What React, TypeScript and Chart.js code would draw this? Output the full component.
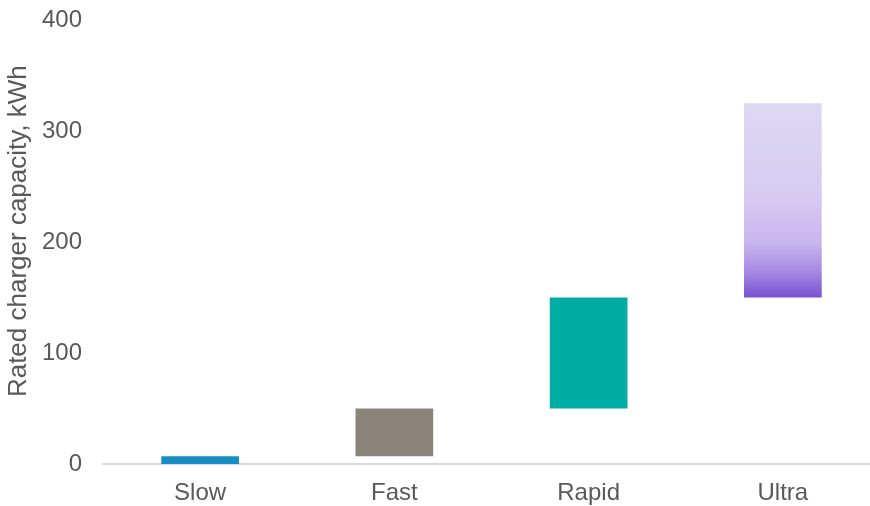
import React, { useEffect, useRef } from "react";
import { Chart, registerables } from "chart.js";

Chart.register(...registerables);

const categories = ["Slow", "Fast", "Rapid", "Ultra"];
const rangeLow = [0, 7, 50, 150];
const rangeHigh = [7, 50, 150, 325];
const barColors = ["#168ec4", "#8a847a", "#00ada5", "ultra"];
const yTicks = [0, 100, 200, 300, 400];
const yTitle = "Rated charger capacity, kWh";

export default function App() {
  const ref = useRef<HTMLCanvasElement | null>(null);

  useEffect(() => {
    document.body.style.margin = "0";
    document.body.style.overflow = "hidden";
    const canvas = ref.current;
    if (!canvas) return;
    const chart = new Chart(canvas, {
      type: "bar",
      data: {
        labels: categories,
        datasets: [
          {
            data: categories.map((_, i) => [rangeLow[i], rangeHigh[i]]) as any,
            backgroundColor: (ctx: any) => {
              const c = barColors[ctx.dataIndex];
              if (c !== "ultra") return c;
              const ch = ctx.chart;
              if (!ch.chartArea) return "#c9bbee";
              const ys = ch.scales.y;
              const t = ys.getPixelForValue(rangeHigh[3]);
              const b = ys.getPixelForValue(rangeLow[3]);
              const g = ch.ctx.createLinearGradient(0, t, 0, b);
              g.addColorStop(0, "#ddd8f1");
              g.addColorStop(0.5, "#d6caf2");
              g.addColorStop(0.72, "#c8b5ee");
              g.addColorStop(0.87, "#a688e2");
              g.addColorStop(1, "#7852cf");
              return g;
            },
            borderWidth: 0,
            barPercentage: 0.4,
            categoryPercentage: 1,
          },
        ],
      },
      options: {
        animation: false,
        responsive: false,
        maintainAspectRatio: false,
        layout: { padding: { top: 20, left: 0, right: 0, bottom: 0 } },
        plugins: { legend: { display: false }, tooltip: { enabled: false } },
        scales: {
          x: {
            grid: { display: false, drawTicks: false },
            border: { display: true, color: "#d9d9d9", width: 2 },
            ticks: {
              color: "#595959",
              padding: 15,
              font: { family: "'Liberation Sans', Arial, sans-serif", size: 24 },
            },
            afterFit: (s: any) => {
              s.height = 42;
              s.paddingTop = 0;
              s.paddingBottom = 0;
            },
          },
          y: {
            min: 0,
            max: 400,
            afterBuildTicks: (s: any) => {
              s.ticks = yTicks.map((v) => ({ value: v }));
            },
            grid: { display: false, drawTicks: false },
            border: { display: false },
            ticks: {
              color: "#595959",
              padding: 21,
              font: { family: "'Liberation Sans', Arial, sans-serif", size: 24 },
            },
            title: {
              display: true,
              text: "   " + yTitle,
              color: "#595959",
              padding: 3,
              font: { family: "'Liberation Sans', Arial, sans-serif", size: 26 },
            },
            afterFit: (s: any) => {
              s.width = 103;
              s.paddingTop = 0;
              s.paddingBottom = 0;
            },
          },
        },
      },
    });
    return () => chart.destroy();
  }, []);

  return (
    <div style={{ position: "absolute", left: 0, top: 0, width: 870, height: 506, overflow: "hidden" }}>
      <canvas ref={ref} width={880} height={506} style={{ width: 880, height: 506, display: "block" }} />
    </div>
  );
}
